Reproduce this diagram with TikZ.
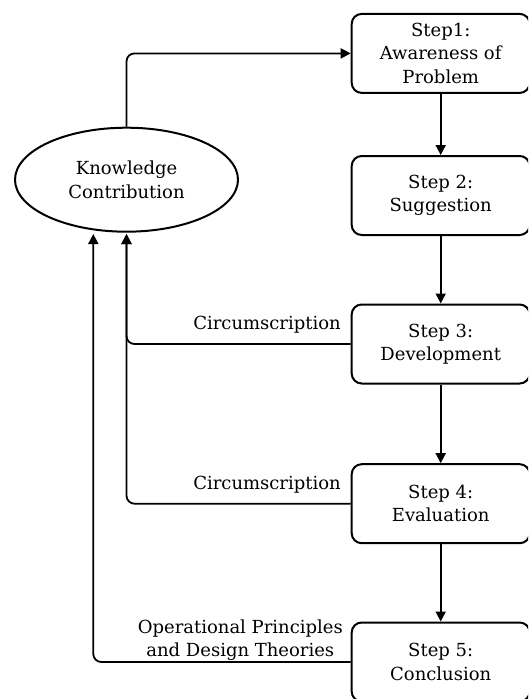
\documentclass[tikz,border=0pt]{standalone}
\usepackage{fontspec}
\setmainfont{DejaVu Serif}
\usetikzlibrary{shapes.geometric,arrows.meta}
\begin{document}
\begin{tikzpicture}[x=1pt,y=-1pt,
  font=\fontsize{18}{23.3}\selectfont,
  stepbox/.style={draw, line width=2pt, rounded corners=10pt, align=center,
    minimum width=178pt, minimum height=79pt, inner sep=0pt},
  goal/.style={draw, ellipse, line width=2pt, align=center,
    minimum width=223pt, minimum height=104pt, inner sep=0pt},
  flow/.style={line width=1.8pt, rounded corners=8pt,
    -{Triangle[length=10pt,width=10pt]}},
  lab/.style={align=center, inner sep=0pt}]
  \useasboundingbox (0,0) rectangle (528,699);
  \clip (0,0) rectangle (528,699);

  % design-science process steps
  \node[stepbox] (s1) at (440.7,53.4)  {Step1:\\Awareness of\\Problem};
  \node[stepbox] (s2) at (440.7,195.5) {Step 2:\\Suggestion};
  \node[stepbox] (s3) at (440.7,344)   {Step 3:\\Development};
  \node[stepbox] (s4) at (440.7,503.7) {Step 4:\\Evaluation};
  \node[stepbox] (s5) at (440.7,662)   {Step 5:\\Conclusion};

  \node[goal] (kc) at (126.5,179.7) {Knowledge\\Contribution};

  % feedback entry points below the ellipse
  \coordinate (in1) at (126.5,234);
  \coordinate (in2) at (93.3,234);

  % main flow
  \draw[flow] (kc.north) |- (s1.west);
  \draw[flow] (s1.south) -- (s2.north);
  \draw[flow] (s2.south) -- (s3.north);
  \draw[flow] (s3.south) -- (s4.north);
  \draw[flow] (s4.south) -- (s5.north);

  % feedback to knowledge contribution
  \draw[flow] (s3.west) -| (in1);
  \draw[flow] (s4.west) -| (in1);
  \draw[flow] (s5.west) -| (in2);

  \node[lab, anchor=base east] (c1) at (341,329.3) {Circumscription};
  \node[lab, anchor=base east] (c2) at (341,489) {Circumscription};
  \node[lab] (op) at (240.3,640) {Operational Principles\\and Design Theories};
\end{tikzpicture}
\end{document}
